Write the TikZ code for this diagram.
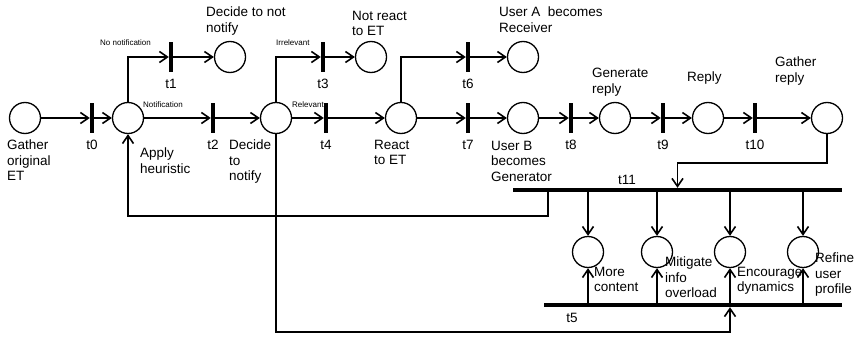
\documentclass[tikz,border=0pt]{standalone}
\usepackage{fontspec}
\setmainfont{Liberation Sans}
\usetikzlibrary{arrows.meta}

\tikzset{
  place/.style={circle, draw, line width=1.3pt, minimum size=31pt, inner sep=0pt},
  trans/.style={fill, minimum width=4pt, minimum height=30pt, inner sep=0pt,
                label={[tlabel]below:#1}},
  hbar/.style={fill, minimum height=4pt, inner sep=0pt},
  tlabel/.style={font=\fontsize{13.5}{15.5}\selectfont, label distance=3.5pt},
  txt/.style={anchor=north west, inner sep=0pt, align=left, font=\fontsize{13.5}{15.5}\selectfont},
  small/.style={anchor=north west, inner sep=0pt, font=\fontsize{8}{9.5}\selectfont},
  arc/.style={-{Straight Barb[length=8pt, width=11pt, line width=1.6pt]}, line width=1.6pt}
}

\begin{document}
\begin{tikzpicture}[x=1pt, y=-1pt]
        \useasboundingbox (0,0) rectangle (866,342);

        % Places on the main row
        \node[place] (gather)      at (25,118)  {};
        \node[place] (apply)       at (128,118) {};
        \node[place] (notify)      at (276,118) {};
        \node[place] (react)       at (401,118) {};
        \node[place] (userb)       at (523,118) {};
        \node[place] (generate)    at (615,118) {};
        \node[place] (reply)       at (708,118) {};
        \node[place] (gatherreply) at (827,118) {};

        % Places on the upper row
        \node[place] (notnotify) at (230,57) {};
        \node[place] (noreact)   at (371,57) {};
        \node[place] (usera)     at (523,57) {};

        % Places between t11 and t5
        \node[place] (more)      at (588,252) {};
        \node[place] (mitigate)  at (657,252) {};
        \node[place] (encourage) at (730,252) {};
        \node[place] (refine)    at (803,252) {};

        % Transitions
        \node[trans=t0]  (t0)  at (92,118)  {};
        \node[trans=t1]  (t1)  at (171,57)  {};
        \node[trans=t2]  (t2)  at (213,118) {};
        \node[trans=t3]  (t3)  at (323,57)  {};
        \node[trans=t4]  (t4)  at (326,118) {};
        \node[trans=t6]  (t6)  at (468,57)  {};
        \node[trans=t7]  (t7)  at (468,118) {};
        \node[trans=t8]  (t8)  at (571,118) {};
        \node[trans=t9]  (t9)  at (663,118) {};
        \node[trans=t10] (t10) at (755,118) {};
        \node[hbar, minimum width=329pt] (t11) at (677.5,190) {};
        \node[hbar, minimum width=298pt] (t5)  at (693,305)   {};
        \node[tlabel] (t11lab) at (627,180) {t11};
        \node[tlabel] (t5lab)  at (572,318) {t5};

        % Place labels
        \node[txt] (lgather)    at (7,140)   {Gather\\original\\ET};
        \node[txt] (lapply)     at (140,148) {Apply\\heuristic};
        \node[txt] (lnotify)    at (229,140) {Decide\\to\\notify};
        \node[txt] (lnotnotify) at (206,7)   {Decide to not\\notify};
        \node[txt] (lnoreact)   at (352,11)  {Not react\\to ET};
        \node[txt] (lusera)     at (499,7)   {User A\ \ becomes\\Receiver};
        \node[txt] (lreact)     at (374,140) {React\\to ET};
        \node[txt] (luserb)     at (491,141) {User B\\becomes\\Generator};
        \node[txt] (lgenerate)  at (592,68)  {Generate\\reply};
        \node[txt] (lreply)     at (687,72)  {Reply};
        \node[txt] (lgreply)    at (775,57)  {Gather\\reply};
        \node[txt] (lmore)      at (594,267) {More\\content};
        \node[txt] (lmitigate)  at (665,257) {Mitigate\\info\\overload};
        \node[txt] (lencourage) at (737,267) {Encourage\\dynamics};
        \node[txt] (lrefine)    at (815,253) {Refine\\user\\profile};

        % Arc labels
        \node[small] (lnonot) at (100,40)  {No notification};
        \node[small] (lnot)   at (143,102) {Notification};
        \node[small] (lirr)   at (276,40)  {Irrelevant};
        \node[small] (lrel)   at (292,102) {Relevant};

        % Main row
        \draw[arc] (gather) -- (t0);
        \draw[arc] (t0) -- (apply);
        \draw[arc] (apply) -- (t2);
        \draw[arc] (t2) -- (notify);
        \draw[arc] (notify) -- (t4);
        \draw[arc] (t4) -- (react);
        \draw[arc] (react) -- (t7);
        \draw[arc] (t7) -- (userb);
        \draw[arc] (userb) -- (t8);
        \draw[arc] (t8) -- (generate);
        \draw[arc] (generate) -- (t9);
        \draw[arc] (t9) -- (reply);
        \draw[arc] (reply) -- (t10);
        \draw[arc] (t10) -- (gatherreply);

        % Upper branches
        \draw[arc] (apply.north) |- (t1);
        \draw[arc] (t1) -- (notnotify);
        \draw[arc] (notify.north) |- (t3);
        \draw[arc] (t3) -- (noreact);
        \draw[arc] (react.north) |- (t6);
        \draw[arc] (t6) -- (usera);

        % Into t11 and back to the heuristic
        \draw[arc] (gatherreply.south) -- ++(0,29) -| (t11.north);
        \draw[arc] ([xshift=-129.5pt]t11.south) -- ++(0,24) -| (apply.south);

        % t11 and t5 to the lower places
        \foreach \p in {more, mitigate, encourage, refine} {
            \draw[arc] (t11.south -| \p) -- (\p);
            \draw[arc] (t5.north -| \p) -- (\p);
        }

        % From the decision down to t5
        \draw[arc] (notify.south) |- ([yshift=-25pt]t5.south -| encourage) -- (t5.south -| encourage);
\end{tikzpicture}
\end{document}
